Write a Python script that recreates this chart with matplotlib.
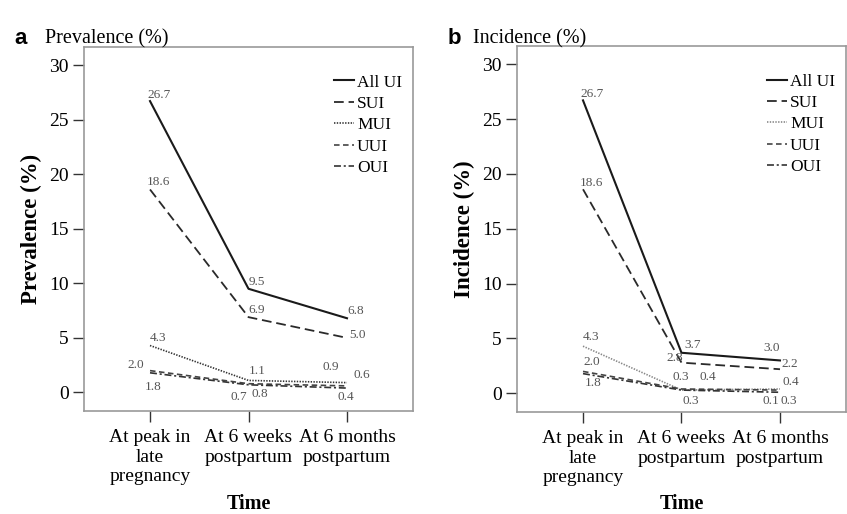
import numpy as np
import matplotlib.pyplot as plt

plt.rcParams['font.family'] = ['Liberation Serif', 'DejaVu Serif']
plt.rcParams['lines.scale_dashes'] = False

# time points
times = ['At peak in\nlate\npregnancy', 'At 6 weeks\npostpartum', 'At 6 months\npostpartum']
series = ['All UI', 'SUI', 'MUI', 'UUI', 'OUI']

# panel a: prevalence (%)
prev_all = [26.7, 9.5, 6.8]
prev_sui = [18.6, 6.9, 5.0]
prev_mui = [4.3, 1.1, 0.9]
prev_uui = [2.0, 0.8, 0.6]
prev_oui = [1.8, 0.7, 0.4]

# panel b: incidence (%)
inc_all = [26.7, 3.7, 3.0]
inc_sui = [18.6, 2.8, 2.2]
inc_mui = [4.3, 0.3, 0.4]
inc_uui = [2.0, 0.4, 0.3]
inc_oui = [1.8, 0.3, 0.1]

# line styles per series
styles = {
    'All UI': dict(color='#1a1a1a', lw=1.5, dashes=()),
    'SUI': dict(color='#2a2a2a', lw=1.3, dashes=(7, 3.5)),
    'MUI': dict(color='#333333', lw=1.2, dashes=(1, 1)),
    'UUI': dict(color='#444444', lw=1.2, dashes=(4, 2.5)),
    'OUI': dict(color='#333333', lw=1.2, dashes=(5, 2, 1.5, 2)),
}

# label offsets in pixels (dx, dy) relative to each point, left aligned
offs_a = {
    'All UI': [(-3, 6), (0, 7), (0, 7)],
    'SUI': [(-3, 7), (0, 7), (2, 3)],
    'MUI': [(0, 8), (0, 9), (-25, 16)],
    'UUI': [(-23, 6), (3, -10), (6, 11)],
    'OUI': [(-5, -14), (-18, -12), (-10, -9)],
}
offs_b = {
    'All UI': [(-3, 6), (3, 8), (-17, 12)],
    'SUI': [(-3, 6), (-15, 5), (1, 5)],
    'MUI': [(0, 9), (-9, 13), (3, 7)],
    'UUI': [(0, 9), (18, 12), (1, -11)],
    'OUI': [(2, -9), (1, -11), (-17, -9)],
}

fig = plt.figure(figsize=(8.47, 5.14), dpi=100)
ax1 = fig.add_axes([0.0992, 0.2004, 0.3884, 0.708])
ax2 = fig.add_axes([0.6104, 0.1984, 0.3884, 0.712])

x = np.arange(len(times))


def draw(ax, data, offs, ylabel, label_y, mui_color=None):
    for name, vals in zip(series, data):
        st = dict(styles[name])
        if name == 'MUI' and mui_color:
            st['color'] = mui_color
        ax.plot(x, vals, label=name, **st)
        for xi, v, (dx, dy) in zip(x, vals, offs[name]):
            ax.annotate(f'{v:.1f}', (xi, v), xytext=(dx, dy), textcoords='offset pixels',
                        ha='left', va='center', fontsize=9.5, color='#555555')
    ax.set_xlim(-0.67, 2.67)
    ax.set_ylim(-1.7, 31.65)
    ax.set_yticks([0, 5, 10, 15, 20, 25, 30])
    ax.set_xticks(x)
    ax.set_xticklabels(times, fontsize=14, linespacing=1.2)
    ax.tick_params(axis='both', direction='out', length=8, width=1, color='#333333',
                   labelsize=14, pad=3)
    ax.tick_params(axis='x', pad=5)
    for sp in ax.spines.values():
        sp.set_color('#999999')
        sp.set_linewidth(1.2)
    ax.set_ylabel(ylabel, fontsize=16.5, fontweight='bold', labelpad=5)
    ax.set_xlabel('Time', fontsize=14.5, fontweight='bold')
    ax.xaxis.set_label_coords(0.5, label_y)
    ax.legend(loc='upper right', bbox_to_anchor=(0.967, 0.925), frameon=False,
              fontsize=12.5, handlelength=1.15, handletextpad=0.15,
              labelspacing=0.3, borderaxespad=0, borderpad=0)


draw(ax1, [prev_all, prev_sui, prev_mui, prev_uui, prev_oui], offs_a, 'Prevalence (%)', -0.228)
draw(ax2, [inc_all, inc_sui, inc_mui, inc_uui, inc_oui], offs_b, 'Incidence (%)', -0.224,
     mui_color='#888888')

fig.text(0.017, 0.925, 'a', fontsize=16, fontweight='bold', family='Liberation Sans', va='center')
fig.text(0.053, 0.925, 'Prevalence (%)', fontsize=14.5, va='center')
fig.text(0.528, 0.925, 'b', fontsize=16, fontweight='bold', family='Liberation Sans', va='center')
fig.text(0.558, 0.925, 'Incidence (%)', fontsize=14.5, va='center')

fig.savefig('out.png', dpi=100)
